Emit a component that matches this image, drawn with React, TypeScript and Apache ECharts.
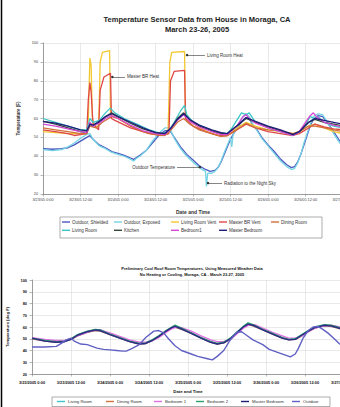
import React, { useEffect, useRef } from "react";
import * as echarts from "echarts";

const FONT = "'Liberation Sans', Arial, sans-serif";

// ---------- Top chart data (hours since 3/23/05 0:00, °F) ----------
const topTicks = [
  "3/23/05 0:00", "3/23/05 12:00", "3/24/05 0:00", "3/24/05 12:00", "3/25/05 0:00",
  "3/25/05 12:00", "3/26/05 0:00", "3/26/05 12:00", "3/27/05 0:00",
];

const outdoorShielded: [number, number][] = [
  [0, 44], [3, 43.7], [6, 44], [8, 44.5], [10, 46], [12, 48], [14, 50], [15, 51], [16, 49], [18, 46],
  [20, 44.5], [22, 42.5], [24, 41.5], [26, 40.5], [28, 39], [29, 38.3], [30, 39.5], [31, 40.5], [33, 43],
  [35, 47], [37, 51], [39, 53.5], [40.5, 54], [42, 50], [44, 45], [46, 41], [48, 38], [50, 35], [52, 33],
  [53.5, 32], [55, 32.5], [56, 34], [57, 37], [58, 41], [59, 45], [60, 49], [61, 52], [62, 54.5], [63, 57],
  [64, 59], [65, 60.5], [66, 60], [67, 57], [68.5, 54], [70, 50], [72, 46], [74, 42.5], [76, 38.5],
  [78, 35.5], [79.5, 34], [80.5, 34.5], [81.5, 37], [82.5, 41], [83.5, 46], [84.5, 51], [85.5, 56],
  [86.5, 59.5], [88, 61.5], [89.5, 61], [91, 58], [93, 53], [95, 48], [96, 46],
];
const outdoorExposed: [number, number][] = [
  [0, 43.5], [3, 43], [6, 43.5], [8, 45], [10, 47], [12, 49.5], [14, 51.5], [15, 52], [16, 49], [18, 45.5],
  [20, 44], [22, 42], [24, 41], [26, 40], [28, 38.5], [29, 37.5], [30, 39], [31, 40], [33, 43], [35, 48],
  [37, 52], [39, 55], [40.5, 55], [42, 49.5], [44, 44], [46, 40], [48, 37], [50, 34], [52, 32], [52.3, 24],
  [52.7, 31], [54, 31], [55, 32], [56, 34], [57, 37.5], [58, 42], [59, 46], [60, 50], [60.4, 45], [60.8, 51],
  [62, 55.5], [63, 58], [64, 61], [65, 62.5], [66, 61], [67, 57.5], [68.5, 53.5], [70, 49.5], [72, 45.5],
  [74, 41.5], [76, 37.5], [78, 34.5], [79.5, 33], [80.5, 33.5], [81.5, 36.5], [82.5, 41], [83.5, 47],
  [84.5, 52], [85.5, 57], [86.5, 61], [88, 62.5], [89.5, 62], [91, 58], [93, 52], [95, 47], [96, 45],
];
const livingRoomVent: [number, number][] = [
  [0, 53], [4, 52.5], [8, 52], [12, 52], [14, 52.5], [14.5, 60], [15, 92], [15.4, 88], [15.8, 60],
  [16.5, 56], [17.8, 56], [18.3, 90], [19, 95], [21.3, 96], [21.6, 62], [23, 61], [28, 56], [34, 52],
  [38, 51.5], [40, 52], [40.6, 90], [41.2, 95], [45.3, 95.5], [45.6, 62], [47, 59], [50, 55], [54, 52],
  [57, 50.5], [59, 51], [62, 55], [65, 58], [68, 56], [72, 54], [76, 53], [80, 52], [82, 53], [85, 56],
  [87, 57], [90, 55], [93, 53], [96, 52],
];
const masterBRVent: [number, number][] = [
  [0, 54], [4, 53], [8, 52], [10, 51], [12, 51.5], [14, 52], [14.5, 70], [15, 79], [15.4, 74], [16, 57],
  [17.8, 54], [18.3, 75], [19.5, 82], [21.6, 84], [21.9, 60], [23, 59], [28, 55], [34, 52], [38, 51],
  [40.3, 52], [40.8, 80], [42, 85], [45.3, 85.5], [45.6, 60], [48, 56], [52, 53], [56, 51], [59, 51],
  [62, 54], [65, 57], [68, 55], [72, 53], [76, 52], [80, 51], [82, 52], [85, 55], [87, 57], [90, 55.5],
  [93, 54.5], [96, 54],
];
const diningRoom: [number, number][] = [
  [0, 55], [4, 54], [8, 53], [12, 52], [14, 52], [15, 56], [17, 55], [19, 58], [21, 60], [22, 61],
  [24, 60], [28, 56], [32, 53], [36, 51.5], [39, 51], [41, 54], [43, 58], [45, 60], [47, 57], [50, 54],
  [54, 52], [57, 50.5], [59, 51], [62, 54], [65, 57.5], [68, 55], [72, 54], [76, 53.5], [80, 52], [82, 53],
  [85, 56], [87, 56], [90, 55], [93, 54], [96, 53],
];
const livingRoom: [number, number][] = [
  [0, 60], [4, 58], [8, 56], [12, 54], [14, 54], [15, 60], [16, 58], [18, 59], [20, 63], [21.5, 65.5],
  [23, 63], [26, 60], [30, 57], [34, 54], [38, 52], [40, 53], [42, 58], [44, 64], [45.3, 67], [46, 62],
  [48, 58], [52, 55], [56, 52.5], [59, 52], [60.5, 55], [62, 59], [63.5, 63], [65, 62], [66, 63], [68, 58],
  [72, 55], [76, 53], [80, 51], [82, 53], [84, 57], [85.5, 61], [87, 60], [88, 61], [90, 58], [93, 56],
  [96, 55],
];
const kitchen: [number, number][] = [
  [0, 58.5], [4, 57], [8, 55], [12, 53], [14, 52.5], [15, 57], [16, 56], [18, 58], [20, 61], [22, 63],
  [24, 61], [28, 57.5], [32, 54.5], [36, 52.5], [39, 52], [41, 55], [43, 60], [45, 63], [47, 59], [50, 56],
  [54, 53.5], [57, 52], [59, 52], [62, 56], [65, 60], [68, 58], [72, 55.5], [76, 53.5], [80, 51.5], [82, 53],
  [85, 58], [87, 59.5], [90, 58], [93, 57], [96, 56],
];
const bedroom1: [number, number][] = [
  [0, 57], [4, 56], [8, 54.5], [12, 53], [14, 52.5], [15, 58], [16, 56], [18, 57.5], [20, 60], [22, 61.5],
  [24, 60], [28, 56.5], [32, 53.5], [36, 52], [39, 51.5], [41, 55], [43, 59], [45, 62], [47, 58.5],
  [50, 55.5], [54, 53], [57, 51.5], [59, 51.5], [62, 56], [64, 61], [65, 62], [66, 60], [68, 57.5], [72, 55],
  [76, 53], [80, 51], [82, 53], [84, 58], [85.5, 61.5], [86.5, 63], [87.5, 61], [90, 58], [93, 56.5],
  [96, 55.5],
];
const masterBedroom: [number, number][] = [
  [0, 58.5], [4, 57.5], [8, 56], [12, 54], [14, 53.5], [15, 57], [16, 56.5], [18, 58.5], [20, 61],
  [22, 62.5], [24, 61], [28, 58], [32, 55], [36, 52.5], [39, 52], [41, 55], [43, 59.5], [45, 62.5],
  [47, 59.5], [50, 56.5], [54, 54], [57, 52.5], [59, 52], [62, 56], [65, 60.5], [68, 58.5], [72, 56],
  [76, 54], [80, 51.5], [82, 53], [85, 58], [87, 60], [90, 59], [93, 58], [96, 57],
];

// ---------- Bottom chart data ----------
const bottomTicks = [
  "3/23/2005 0:00", "3/23/2005 12:00", "3/24/2005 0:00", "3/24/2005 12:00", "3/25/2005 0:00",
  "3/25/2005 12:00", "3/26/2005 0:00", "3/26/2005 12:00", "3/27/2005 0:00",
];
const simLivingRoom: [number, number][] = [
  [0, 50.5], [4, 48.5], [7.5, 47.5], [10, 48], [12, 50], [14, 53], [17, 56], [19.5, 57.5], [21, 57],
  [24, 54], [27, 51], [30, 48], [33, 46], [35, 46.5], [37, 49], [39, 52], [41, 56], [43, 59.5], [44, 60.5],
  [46, 58.5], [49, 55], [52, 51], [55, 47.5], [57, 46], [59, 47], [61, 50], [63, 55], [65, 60], [66.5, 62.5],
  [68, 61.5], [71, 58], [74, 54.5], [77, 51], [79, 49.5], [81, 50], [83, 53], [85, 56.5], [87, 59.5],
  [90, 61.5], [92, 61], [94, 59.5], [96, 58],
];
const simDiningRoom: [number, number][] = [
  [0, 50], [4, 48], [7.5, 47], [10, 47.5], [12, 49.5], [14, 52.5], [17, 55.5], [19.5, 57], [21, 56.5],
  [24, 53.5], [27, 50.5], [30, 47.5], [33, 45.5], [35, 46], [37, 48.5], [39, 51.5], [41, 55.5], [43, 59],
  [44, 60], [46, 58], [49, 54.5], [52, 50.5], [55, 47], [57, 45.5], [59, 46.5], [61, 49.5], [63, 54.5],
  [65, 59.5], [66.5, 62], [68, 61], [71, 57.5], [74, 54], [77, 50.5], [79, 49], [81, 49.5], [83, 52.5],
  [85, 56], [87, 59], [90, 61], [92, 60.5], [94, 59], [96, 57.5],
];
const simBedroom1: [number, number][] = [
  [0, 51], [4, 49.5], [7.5, 48.5], [10, 48.5], [12, 50], [14, 52.5], [17, 55.5], [19.5, 57.5], [21, 57.5],
  [24, 55], [27, 52], [30, 49], [33, 47], [35, 47], [37, 48.5], [39, 51], [41, 55], [43, 58.5], [44.5, 60],
  [46, 59.5], [49, 56.5], [52, 52.5], [55, 49], [57, 47.5], [59, 47.5], [61, 49.5], [63, 54], [65, 59],
  [67, 62], [68.5, 62], [71, 59], [74, 55.5], [77, 52.5], [79, 50.5], [81, 50.5], [83, 52.5], [85, 56],
  [87, 59], [90, 61], [92, 61.5], [94, 60.5], [96, 59],
];
const simBedroom2: [number, number][] = [
  [0, 50.5], [4, 48.5], [7.5, 47.5], [10, 48], [12, 50], [14, 53.5], [17, 56.5], [19.5, 58], [21, 57.5],
  [24, 54], [27, 51], [30, 48], [33, 46], [35, 46.5], [37, 49], [39, 52.5], [41, 56.5], [43, 60], [44, 61.5],
  [46, 59], [49, 55], [52, 51], [55, 47.5], [57, 46], [59, 47], [61, 50.5], [63, 55.5], [65, 60.5],
  [66.5, 63.5], [68, 62], [71, 58], [74, 54.5], [77, 51], [79, 49.5], [81, 50], [83, 53.5], [85, 57],
  [87, 60], [90, 62], [92, 61.5], [94, 60], [96, 58],
];
const simMasterBedroom: [number, number][] = [
  [0, 50.5], [4, 48], [7.5, 47], [10, 47.5], [12, 49.5], [14, 53], [17, 56], [19.5, 57.5], [21, 57],
  [24, 53.5], [27, 50.5], [30, 47.5], [33, 45.5], [35, 46], [37, 48.5], [39, 52], [41, 56], [43, 59.5],
  [44, 60.5], [46, 58.5], [49, 54.5], [52, 50.5], [55, 47], [57, 45.5], [59, 46.5], [61, 50], [63, 55],
  [65, 60], [66.5, 62.5], [68, 61.5], [71, 57.5], [74, 54], [77, 50.5], [79, 49], [81, 49.5], [83, 53],
  [85, 56.5], [87, 59.5], [90, 61.5], [92, 61], [94, 59.5], [96, 57.5],
];
const simOutdoor: [number, number][] = [
  [0, 43], [4, 43], [7.5, 43.5], [9, 46], [10.5, 49], [12, 50.5], [13, 48], [15, 45.5], [17, 45], [20, 42],
  [22, 41], [24, 40.5], [26, 40], [28, 39.5], [29, 39.5], [31, 42], [33, 45], [35, 51], [37.5, 56.5],
  [39, 57], [40.5, 55], [42, 50], [44, 44], [46, 40], [49, 37], [51, 35], [54, 33], [55.5, 32], [57, 35],
  [59, 40], [61, 49], [63, 55.5], [64.5, 56], [66, 53], [68, 49], [71, 45], [73, 41], [76, 38], [78, 36],
  [79.5, 34.5], [81, 37], [82, 42], [83.5, 51], [85, 57], [86.5, 60], [88, 60.5], [89.5, 58], [91, 55],
  [93, 50], [94.5, 46], [96, 43],
];

const topSeries = [
  { name: "Outdoor, Shielded", data: outdoorShielded, color: "#4a58c0" },
  { name: "Outdoor, Exposed", data: outdoorExposed, color: "#74d4e4" },
  { name: "Living Room Vent", data: livingRoomVent, color: "#f2c832" },
  { name: "Master BR Vent", data: masterBRVent, color: "#e04848" },
  { name: "Dining Room", data: diningRoom, color: "#d0703a" },
  { name: "Living Room", data: livingRoom, color: "#3cc6c6" },
  { name: "Kitchen", data: kitchen, color: "#304838" },
  { name: "Bedroom1", data: bedroom1, color: "#d448d4" },
  { name: "Master Bedroom", data: masterBedroom, color: "#1e1e7a" },
];
const bottomSeries = [
  { name: "Living Room", data: simLivingRoom, color: "#86d6c4" },
  { name: "Dining Room", data: simDiningRoom, color: "#8a5a5a" },
  { name: "Bedroom 1", data: simBedroom1, color: "#e070e0" },
  { name: "Bedroom 2", data: simBedroom2, color: "#2e9e6e" },
  { name: "Master Bedroom", data: simMasterBedroom, color: "#2c2c86" },
  { name: "Outdoor", data: simOutdoor, color: "#6060c4" },
];

const topLegendCols = [
  { x: 62, names: ["Outdoor, Shielded", "Living Room"] },
  { x: 114, names: ["Outdoor, Exposed", "Kitchen"] },
  { x: 171, names: ["Living Room Vent", "Bedroom1"] },
  { x: 219, names: ["Master BR Vent", "Master Bedroom"] },
  { x: 271, names: ["Dining Room"] },
];
const bottomLegendPos = [57, 106, 154, 196, 241, 292];

function markLabel(text: string, pos: string) {
  return { show: true, formatter: text, position: pos, fontSize: 4.5, color: "#333", fontFamily: FONT, distance: 2 };
}

function buildOption() {
  const annotLine = { color: "#333", width: 0.6, type: "solid" };
  const series: any[] = [];
  topSeries.forEach((s) => {
    const item: any = {
      name: s.name,
      type: "line",
      xAxisIndex: 0,
      yAxisIndex: 0,
      data: s.data,
      showSymbol: false,
      symbol: "none",
      lineStyle: { width: 1.3, color: s.color },
      itemStyle: { color: s.color },
      z: 2,
    };
    if (s.name === "Living Room Vent") {
      item.markLine = {
        silent: true,
        symbol: ["circle", "none"],
        symbolSize: 2.5,
        lineStyle: annotLine,
        data: [
          [
            { coord: [46.1, 93.6], label: markLabel("Living Room Heat", "end") },
            { coord: [51.8, 93.6] },
          ],
        ],
      };
    }
    if (s.name === "Master BR Vent") {
      item.markLine = {
        silent: true,
        symbol: ["circle", "none"],
        symbolSize: 2.5,
        lineStyle: annotLine,
        data: [
          [
            { coord: [22.2, 82], label: markLabel("Master BR Heat", "end") },
            { coord: [26.2, 82] },
          ],
        ],
      };
    }
    if (s.name === "Outdoor, Shielded") {
      item.markLine = {
        silent: true,
        symbol: ["none", "circle"],
        symbolSize: 2.5,
        lineStyle: annotLine,
        data: [
          [
            { coord: [42.9, 34.3], label: markLabel("Outdoor Temperature", "start") },
            { coord: [50.2, 34.3] },
          ],
        ],
      };
    }
    if (s.name === "Outdoor, Exposed") {
      item.markLine = {
        silent: true,
        symbol: ["circle", "none"],
        symbolSize: 2.5,
        lineStyle: annotLine,
        data: [
          [
            { coord: [52.8, 25.8], label: markLabel("Radiation to the Night Sky", "end") },
            { coord: [57.3, 25.8] },
          ],
        ],
      };
    }
    series.push(item);
  });
  bottomSeries.forEach((s) => {
    series.push({
      name: s.name,
      type: "line",
      xAxisIndex: 1,
      yAxisIndex: 1,
      data: s.data,
      showSymbol: false,
      symbol: "none",
      lineStyle: { width: 1.4, color: s.color },
      itemStyle: { color: s.color },
    });
  });

  const legends: any[] = [];
  topLegendCols.forEach((c) => {
    legends.push({
      orient: "vertical",
      left: c.x,
      top: 219.5,
      padding: 0,
      itemGap: 3.3,
      itemWidth: 8,
      itemHeight: 1.4,
      icon: "rect",
      data: c.names,
      selectedMode: false,
      textStyle: { fontSize: 4.5, lineHeight: 5, color: "#333", fontFamily: FONT, padding: [0, 0, 0, -3] },
    });
  });
  bottomSeries.forEach((s, i) => {
    legends.push({
      orient: "horizontal",
      left: bottomLegendPos[i],
      top: 399,
      padding: 0,
      itemWidth: 8,
      itemHeight: 1.4,
      icon: "rect",
      data: [s.name],
      selectedMode: false,
      textStyle: { fontSize: 4.3, lineHeight: 5, color: "#333", fontFamily: FONT, padding: [0, 0, 0, -2] },
    });
  });

  const gridLine = { show: true, lineStyle: { color: "#dadada", width: 0.6 } };

  return {
    animation: false,
    backgroundColor: "#ffffff",
    title: [
      {
        text: "Temperature Sensor Data from House in Moraga, CA\nMarch 23-26, 2005",
        left: 192,
        top: 10,
        textAlign: "center",
        textStyle: { fontSize: 7.5, fontWeight: "bold", color: "#222", lineHeight: 9.5, fontFamily: FONT },
      },
      {
        text: "Preliminary Cool Roof Room Temperatures, Using Measured Weather Data\nNo Heating or Cooling, Moraga, CA - March 23-27, 2005",
        left: 187,
        top: 261,
        textAlign: "center",
        textStyle: { fontSize: 4, fontWeight: "bold", color: "#111", lineHeight: 5.5, fontFamily: FONT },
      },
    ],
    legend: legends,
    grid: [
      { left: 43, top: 43, width: 300, height: 151, outerBoundsMode: "none" },
      { left: 32, top: 280, width: 312, height: 94, outerBoundsMode: "none" },
    ],
    xAxis: [
      {
        type: "value",
        gridIndex: 0,
        min: 0,
        max: 96,
        interval: 12,
        name: "Date and Time",
        nameLocation: "middle",
        nameGap: 15,
        nameTextStyle: { fontSize: 5, fontWeight: "bold", color: "#333", fontFamily: FONT },
        axisLine: { lineStyle: { color: "#888", width: 0.8 } },
        axisTick: { show: true, length: 2.5, lineStyle: { color: "#888", width: 0.6 } },
        axisLabel: {
          fontSize: 3.8,
          color: "#444",
          margin: 4,
          fontFamily: FONT,
          formatter: (v: number) => topTicks[Math.round(v / 12)] ?? "",
        },
        splitLine: gridLine,
      },
      {
        type: "value",
        gridIndex: 1,
        min: 0,
        max: 96,
        interval: 12,
        name: "Date and Time",
        nameLocation: "middle",
        nameGap: 15,
        nameTextStyle: { fontSize: 4.3, fontWeight: "bold", color: "#111", fontFamily: FONT },
        axisLine: { lineStyle: { color: "#888", width: 0.8 } },
        axisTick: { show: true, length: 2.5, lineStyle: { color: "#888", width: 0.6 } },
        axisLabel: {
          fontSize: 3.9,
          fontWeight: "bold",
          color: "#111",
          margin: 6,
          fontFamily: FONT,
          formatter: (v: number) => bottomTicks[Math.round(v / 12)] ?? "",
        },
        splitLine: gridLine,
      },
    ],
    yAxis: [
      {
        type: "value",
        gridIndex: 0,
        min: 20,
        max: 100,
        interval: 10,
        name: "Temperature (F)",
        nameLocation: "middle",
        nameRotate: 90,
        nameGap: 18,
        nameTextStyle: { fontSize: 4.5, fontWeight: "bold", color: "#333", fontFamily: FONT },
        axisLine: { show: true, lineStyle: { color: "#888", width: 0.8 } },
        axisTick: { show: true, length: 2.5, lineStyle: { color: "#888", width: 0.6 } },
        axisLabel: { fontSize: 3.8, color: "#444", margin: 5, fontFamily: FONT },
        splitLine: gridLine,
      },
      {
        type: "value",
        gridIndex: 1,
        min: 20,
        max: 100,
        interval: 10,
        name: "Temperature (deg F)",
        nameLocation: "middle",
        nameRotate: 90,
        nameGap: 16,
        nameTextStyle: { fontSize: 4.2, fontWeight: "bold", color: "#111", fontFamily: FONT },
        axisLine: { show: true, lineStyle: { color: "#888", width: 0.8 } },
        axisTick: { show: true, length: 2.5, lineStyle: { color: "#888", width: 0.6 } },
        axisLabel: { fontSize: 3.9, fontWeight: "bold", color: "#111", margin: 5, fontFamily: FONT },
        splitLine: gridLine,
      },
    ],
    graphic: [
      {
        type: "line",
        shape: { x1: 1.5, y1: 0, x2: 1.5, y2: 407 },
        style: { stroke: "#000", lineWidth: 1.5 },
      },
      {
        type: "rect",
        shape: { x: 60, y: 217, width: 262, height: 21 },
        style: { fill: "none", stroke: "#777", lineWidth: 0.6 },
        z: -1,
      },
      {
        type: "rect",
        shape: { x: 52, y: 397, width: 278, height: 9.5 },
        style: { fill: "none", stroke: "#777", lineWidth: 0.6 },
        z: -1,
      },
    ],
    series,
  };
}

export default function App() {
  const ref = useRef<HTMLDivElement>(null);
  useEffect(() => {
    if (!ref.current) return;
    const chart = echarts.init(ref.current, null, { renderer: "svg" });
    chart.setOption(buildOption() as any);
    return () => chart.dispose();
  }, []);
  return (
    <div
      ref={ref}
      style={{ position: "absolute", left: 0, top: 0, width: 340, height: 407, background: "#fff" }}
    />
  );
}
